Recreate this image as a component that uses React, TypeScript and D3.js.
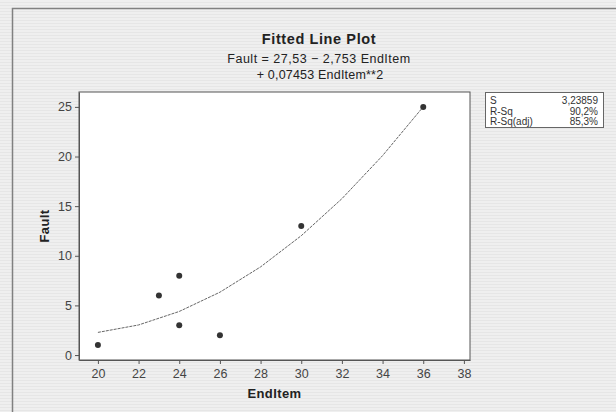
import { useEffect, useRef } from 'react'
import * as d3 from 'd3'

const endItem = [20, 23, 24, 24, 26, 30, 36]
const fault = [1, 6, 8, 3, 2, 13, 25]

// fitted values
const fitX = [20, 22, 24, 26, 28, 30, 32, 34, 36]
const fitY = [2.28, 3.03, 4.39, 6.33, 8.88, 12.02, 15.75, 20.09, 25.01]

const xTicks = [20, 22, 24, 26, 28, 30, 32, 34, 36, 38]
const yTicks = [0, 5, 10, 15, 20, 25]

const statLabels = ['S', 'R-Sq', 'R-Sq(adj)']
const statValues = ['3,23859', '90,2%', '85,3%']

const W = 616
const H = 412
const FONT = '"Liberation Sans", Arial, sans-serif'

export default function App() {
  const ref = useRef<SVGSVGElement | null>(null)

  useEffect(() => {
    if (!ref.current) {return}
    const svg = d3.select(ref.current)
    svg.selectAll('*').remove()

    const left = 79, right = 470, top = 92, bottom = 360

    const x = d3.scaleLinear().domain([19.07, 38.3]).range([left, right])
    const y = d3.scaleLinear().domain([-0.5, 26.5]).range([bottom, top])

    // striped grey background
    const defs = svg.append('defs')
    const pat = defs.append('pattern').attr('id', 'stripes').attr('width', 4).attr('height', 3).attr('patternUnits', 'userSpaceOnUse')
    pat.append('rect').attr('width', 4).attr('height', 3).attr('fill', '#efefef')
    pat.append('rect').attr('y', 2).attr('width', 4).attr('height', 1).attr('fill', '#e6e6e6')
    svg.append('rect').attr('width', W).attr('height', H).attr('fill', 'url(#stripes)')

    svg.append('rect')
      .attr('x', 12.5).attr('y', 8.5).attr('width', 620).attr('height', 420)
      .attr('fill', 'none').attr('stroke', '#808080').attr('stroke-width', 1.5)

    // plot area
    svg.append('rect')
      .attr('x', left).attr('y', top).attr('width', right - left).attr('height', bottom - top)
      .attr('fill', '#fff').attr('stroke', '#555').attr('stroke-width', 1)

    const g = svg.append('g').attr('font-family', FONT)

    g.append('text').attr('x', 319).attr('y', 44).attr('text-anchor', 'middle')
      .attr('font-size', 14.5).attr('font-weight', 'bold').attr('letter-spacing', 0.6).attr('fill', '#222').text('Fitted Line Plot')
    g.append('text').attr('x', 319).attr('y', 63).attr('text-anchor', 'middle')
      .attr('font-size', 12.5).attr('letter-spacing', 0.5).attr('fill', '#222').text('Fault =  27,53 − 2,753 EndItem')
    g.append('text').attr('x', 320).attr('y', 79).attr('text-anchor', 'middle')
      .attr('font-size', 12.5).attr('letter-spacing', 0.2).attr('fill', '#222').text('+ 0,07453 EndItem**2')

    // axes
    const xAxis = g.append('g').attr('transform', `translate(0,${bottom})`)
      .call(d3.axisBottom(x).tickValues(xTicks).tickSize(4).tickSizeOuter(0))
    xAxis.select('.domain').attr('stroke', '#555')
    xAxis.selectAll('line').attr('stroke', '#555')
    xAxis.selectAll('text').attr('font-size', 12.5).attr('fill', '#444').attr('font-family', FONT).attr('dy', '0.9em')

    const yAxis = g.append('g').attr('transform', `translate(${left},0)`)
      .call(d3.axisLeft(y).tickValues(yTicks).tickSize(4).tickSizeOuter(0))
    yAxis.select('.domain').attr('stroke', '#555')
    yAxis.selectAll('line').attr('stroke', '#555')
    yAxis.selectAll('text').attr('font-size', 12.5).attr('fill', '#444').attr('font-family', FONT)

    g.append('text').attr('x', (left + right) / 2).attr('y', 398).attr('text-anchor', 'middle')
      .attr('font-size', 13).attr('font-weight', 'bold').attr('letter-spacing', 0.4).attr('fill', '#222').text('EndItem')
    g.append('text').attr('transform', `translate(49,${(top + bottom) / 2}) rotate(-90)`)
      .attr('text-anchor', 'middle').attr('font-size', 13).attr('font-weight', 'bold').attr('letter-spacing', 0.4).attr('fill', '#222').text('Fault')

    // fitted curve
    const line = d3.line<number>().x((_, i) => x(fitX[i])).y((d) => y(d))
    g.append('path').attr('d', line(fitY)).attr('fill', 'none')
      .attr('stroke', '#666').attr('stroke-width', 1).attr('stroke-dasharray', '3,1')

    // points
    g.selectAll('circle.pt').data(endItem).join('circle').attr('class', 'pt')
      .attr('cx', (d) => x(d)).attr('cy', (_, i) => y(fault[i])).attr('r', 3)
      .attr('fill', '#333')

    // stats box
    const bx = 485, by = 92
    g.append('rect').attr('x', bx + 0.5).attr('y', by + 0.5).attr('width', 118).attr('height', 35)
      .attr('fill', '#fff').attr('stroke', '#666')
    statLabels.forEach((s, i) => {
      g.append('text').attr('x', bx + 5).attr('y', by + 12 + i * 10.5).attr('font-size', 10).attr('fill', '#333').text(s)
      g.append('text').attr('x', bx + 113).attr('y', by + 12 + i * 10.5).attr('font-size', 10)
        .attr('text-anchor', 'end').attr('fill', '#333').text(statValues[i])
    })
  }, [])

  return (
    <svg ref={ref} width={W} height={H} style={{ position: 'absolute', left: 0, top: 0, display: 'block' }} />
  )
}
